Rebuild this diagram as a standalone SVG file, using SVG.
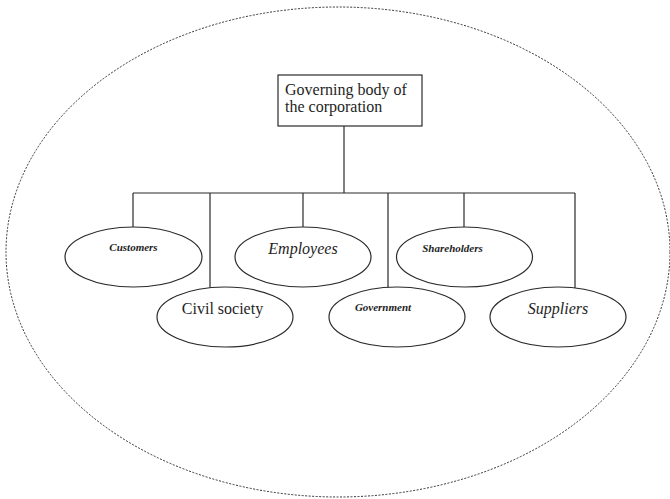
<svg xmlns="http://www.w3.org/2000/svg" width="670" height="499" viewBox="0 0 670 499" font-family="Liberation Serif, Times New Roman, serif">
  <style>
    .outline { fill: none; stroke: #333; stroke-width: 1; stroke-dasharray: 2 1.5; }
    .node { fill: #fff; stroke: #2a2a2a; stroke-width: 1.2; }
    .link { fill: none; stroke: #2a2a2a; stroke-width: 1.2; }
    text { fill: #1e1e1e; font-family: "Liberation Serif", "Times New Roman", serif; }
    .big { font-size: 16px; }
    .it { font-style: italic; }
    .small { font-size: 11px; font-style: italic; font-weight: bold; }
  </style>
  <rect width="670" height="499" fill="#fff"/>
  <!-- outer boundary of the corporation -->
  <ellipse class="outline" cx="338" cy="252" rx="332" ry="245"/>

  <g id="connectors">
    <path class="link" d="M344 126 V193 M133 193 H575"/>
    <path class="link" d="M133 193 V227 M210 193 V288 M303 193 V227 M388 193 V288 M464 193 V227 M575 193 V288"/>
  </g>

  <g id="governing-body">
    <rect class="node" x="278" y="75" width="144" height="51"/>
    <text class="big" x="285" y="95">Governing body of</text>
    <text class="big" x="285" y="112">the corporation</text>
  </g>

  <g id="customers">
    <ellipse class="node" cx="133.5" cy="257" rx="68.5" ry="30"/>
    <text class="small" x="133.5" y="251" text-anchor="middle">Customers</text>
  </g>
  <g id="employees">
    <ellipse class="node" cx="303" cy="257" rx="68" ry="30"/>
    <text class="big it" x="303" y="254" text-anchor="middle">Employees</text>
  </g>
  <g id="shareholders">
    <ellipse class="node" cx="464.5" cy="257" rx="68" ry="30"/>
    <text class="small" x="452.5" y="252" text-anchor="middle">Shareholders</text>
  </g>

  <g id="civil-society">
    <ellipse class="node" cx="225" cy="317" rx="68" ry="30"/>
    <text class="big" x="222.5" y="314" text-anchor="middle">Civil society</text>
  </g>
  <g id="government">
    <ellipse class="node" cx="397" cy="317" rx="68" ry="30"/>
    <text class="small" x="383" y="311" text-anchor="middle">Government</text>
  </g>
  <g id="suppliers">
    <ellipse class="node" cx="558" cy="317" rx="68" ry="30"/>
    <text class="big it" x="558" y="314" text-anchor="middle">Suppliers</text>
  </g>
</svg>
